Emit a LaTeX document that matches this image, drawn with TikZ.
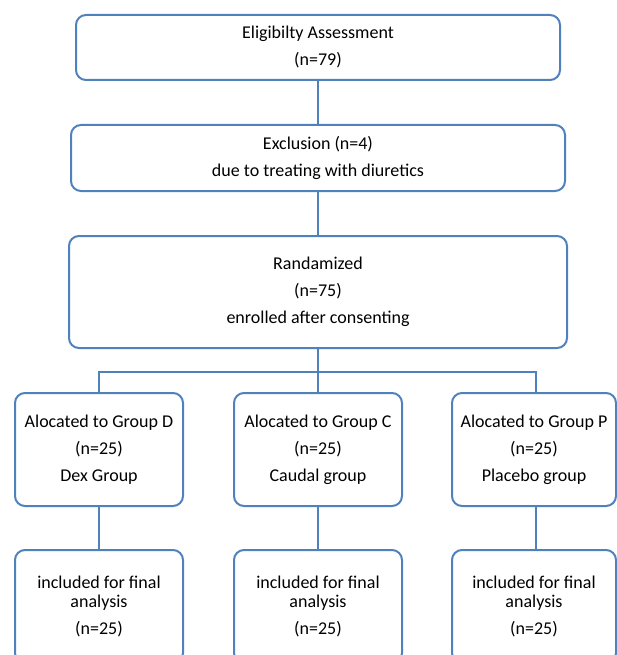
\documentclass[tikz,border=0pt]{standalone}
\usepackage{fontspec}
\setmainfont{Carlito}
\definecolor{boxblue}{RGB}{79,129,189}
\tikzset{
  box/.style={draw=boxblue, line width=2pt, rounded corners=10pt, align=center,
    inner sep=0pt, text=black, font=\fontsize{18}{27}\selectfont},
  conn/.style={draw=boxblue, line width=1.4pt}
}
\begin{document}
\begin{tikzpicture}[x=1pt,y=-1pt]
\useasboundingbox (0,0) rectangle (616,655);
\node[box, minimum width=484pt, minimum height=65pt] (elig) at (318,47.5) {Eligibilty Assessment\\(n=79)};
\node[box, minimum width=494pt, minimum height=66pt] (excl) at (318,158) {Exclusion (n=4)\\due to treating with diuretics};
\node[box, minimum width=498pt, minimum height=112pt] (rand) at (318,292) {Randamized\\(n=75)\\enrolled after consenting};
\node[box, minimum width=168pt, minimum height=113pt] (gd) at (99,449.5) {Alocated to Group D\\(n=25)\\Dex Group};
\node[box, minimum width=168pt, minimum height=113pt] (gc) at (318,449.5) {Alocated to Group C\\(n=25)\\Caudal group};
\node[box, minimum width=164pt, minimum height=113pt] (gp) at (534,449.5) {Alocated to Group P\\(n=25)\\Placebo group};
\node[box, minimum width=168pt, minimum height=113pt] (fd) at (99,606.5) {included for final\\[-8pt]analysis\\(n=25)};
\node[box, minimum width=168pt, minimum height=113pt] (fc) at (318,606.5) {included for final\\[-8pt]analysis\\(n=25)};
\node[box, minimum width=164pt, minimum height=113pt] (fp) at (534,606.5) {included for final\\[-8pt]analysis\\(n=25)};
\draw[conn] (elig) -- (excl);
\draw[conn] (excl) -- (rand);
\draw[conn] (rand) -- (gc);
\draw[conn] (rand.south) -- ++(0,23) -| (gd.north);
\draw[conn] (rand.south) -- ++(0,23) -| ([xshift=2pt]gp.north);
\draw[conn] (gd) -- (fd);
\draw[conn] (gc) -- (fc);
\draw[conn] ([xshift=2pt]gp.south) -- ([xshift=2pt]fp.north);
\end{tikzpicture}
\end{document}
